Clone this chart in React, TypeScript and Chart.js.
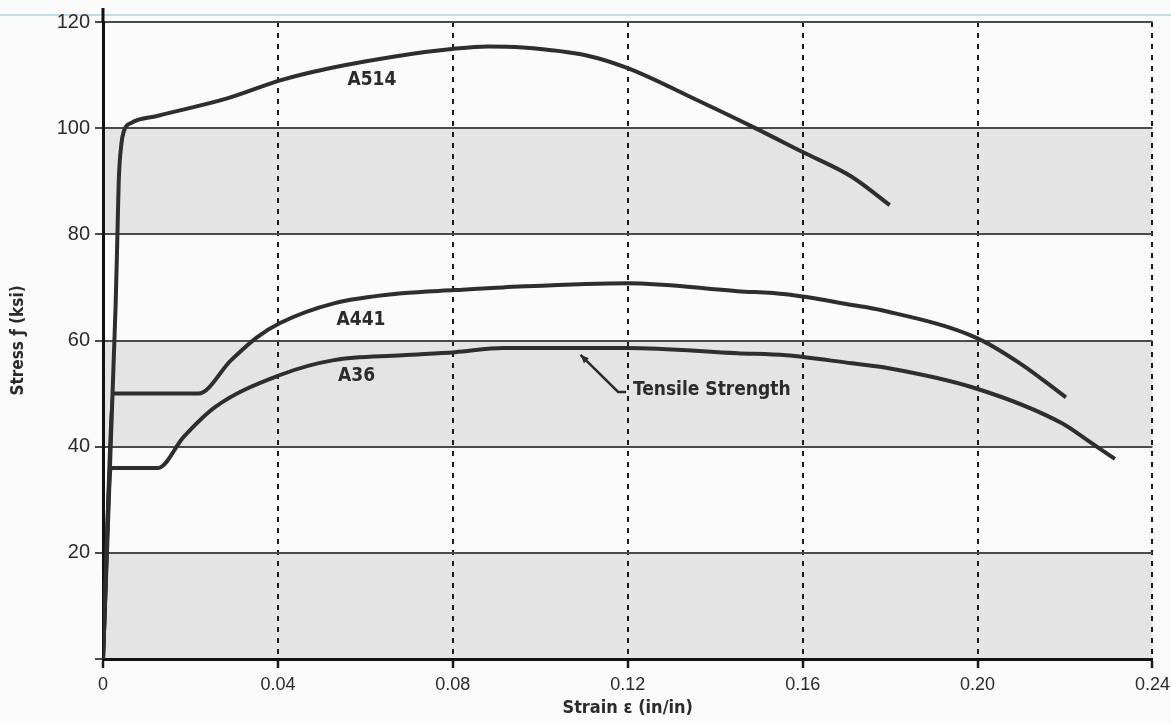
import React, { useEffect, useRef } from "react";
import { Chart, registerables } from "chart.js";

Chart.register(...registerables);

// ---- data (strain in in/in, stress in ksi) ----
const xTickStep = 0.04;
const xMin = 0;
const xMax = 0.24;
const yTickStep = 20;
const yMin = 0;
const yMax = 120;
const shadedBands: [number, number][] = [
  [80, 100],
  [40, 60],
  [0, 20],
];

const a514Strain = [0, 0.0029, 0.0033, 0.0036, 0.0042, 0.0048, 0.0065, 0.0124, 0.0284, 0.0405, 0.0474, 0.066, 0.0807, 0.088, 0.096, 0.1106, 0.12, 0.1358, 0.1487, 0.16, 0.1713, 0.1799];
const a514Stress = [0, 67, 80, 90, 97, 99.5, 101, 102.3, 105.6, 109, 110.5, 113.4, 115, 115.4, 115.2, 113.7, 111.3, 105.3, 100.2, 95.5, 90.8, 85.5];

const a441Strain = [0, 0.0025, 0.0218, 0.0293, 0.0352, 0.0405, 0.0528, 0.0684, 0.0805, 0.0915, 0.12, 0.1451, 0.1562, 0.1713, 0.1781, 0.1995, 0.2097, 0.2202];
const a441Stress = [0, 50, 50, 56.3, 60.6, 63.3, 67, 68.9, 69.5, 70, 70.8, 69.3, 68.7, 66.7, 65.7, 60.6, 55.7, 49.3];

const a36Strain = [0, 0.0018, 0.0126, 0.0184, 0.0257, 0.0405, 0.0528, 0.0684, 0.0805, 0.0915, 0.12, 0.1451, 0.1562, 0.1713, 0.1781, 0.1995, 0.2193, 0.226, 0.2314];
const a36Stress = [0, 36, 36, 41.8, 47.5, 53.5, 56.3, 57.2, 57.8, 58.6, 58.6, 57.6, 57.2, 55.7, 55, 51, 44.4, 40.7, 37.7];

const seriesNames = ["A514", "A441", "A36"];
// label anchor (strain, stress) for each series name
const labelStrain = [0.0615, 0.0590, 0.0580];
const labelStress = [109, 63.8, 53.3];

const noteText = "Tensile Strength";
const noteStrain = 0.1212;
const noteStress = 50.7;
const arrowTail = [0.1178, 50.3];
const arrowTip = [0.1092, 57.3];

const xTitle = "Strain ε (in/in)";
const yTitle = "Stress ƒ (ksi)";

const TICK_FONT = '"Liberation Sans", Arial, sans-serif';
const BOLD_FONT = '"Liberation Sans Narrow", "DejaVu Sans Condensed", "Liberation Sans", Arial, sans-serif';
const INK = "#2b2b2b";

function toPoints(xs: number[], ys: number[]) {
  return xs.map((x, i) => ({ x, y: ys[i] }));
}

const decorPlugin = {
  id: "decor",
  beforeDraw(chart: any) {
    const { ctx, chartArea, scales } = chart;
    const y = scales.y;
    ctx.save();
    ctx.fillStyle = "#e4e4e4";
    for (const [lo, hi] of shadedBands) {
      const y1 = y.getPixelForValue(hi);
      const y2 = y.getPixelForValue(lo);
      ctx.fillRect(chartArea.left, y1, chartArea.right - chartArea.left, y2 - y1);
    }
    ctx.restore();
  },
  afterDatasetsDraw(chart: any) {
    const { ctx, scales } = chart;
    const x = scales.x;
    const y = scales.y;
    ctx.save();
    ctx.fillStyle = INK;
    ctx.font = `bold 19px ${BOLD_FONT}`;
    ctx.textAlign = "center";
    ctx.textBaseline = "middle";
    seriesNames.forEach((name, i) => {
      ctx.fillText(name, x.getPixelForValue(labelStrain[i]), y.getPixelForValue(labelStress[i]));
    });
    ctx.textAlign = "left";
    ctx.fillText(noteText, x.getPixelForValue(noteStrain), y.getPixelForValue(noteStress));

    // arrow
    const tx = x.getPixelForValue(arrowTail[0]);
    const ty = y.getPixelForValue(arrowTail[1]);
    const hx = x.getPixelForValue(arrowTip[0]);
    const hy = y.getPixelForValue(arrowTip[1]);
    ctx.strokeStyle = INK;
    ctx.lineWidth = 2.5;
    ctx.beginPath();
    ctx.moveTo(tx + 8, ty);
    ctx.lineTo(tx, ty);
    ctx.lineTo(hx, hy);
    ctx.stroke();
    const ang = Math.atan2(hy - ty, hx - tx);
    const L = 9;
    ctx.beginPath();
    ctx.moveTo(hx, hy);
    ctx.lineTo(hx - L * Math.cos(ang - 0.4), hy - L * Math.sin(ang - 0.4));
    ctx.lineTo(hx - L * Math.cos(ang + 0.4), hy - L * Math.sin(ang + 0.4));
    ctx.closePath();
    ctx.fill();
    ctx.restore();
  },
  afterDraw(chart: any) {
    const { ctx, chartArea } = chart;
    ctx.save();
    ctx.strokeStyle = "#111";
    ctx.lineWidth = 3;
    ctx.beginPath();
    ctx.moveTo(chartArea.left, chartArea.top);
    ctx.lineTo(chartArea.left, chartArea.top - 14);
    ctx.stroke();
    ctx.restore();
  },
};

export default function App() {
  const canvasRef = useRef<HTMLCanvasElement | null>(null);

  useEffect(() => {
    const canvas = canvasRef.current;
    if (!canvas) return;
    const lineStyle = {
      borderColor: "#2e2e2e",
      borderWidth: 4,
      pointRadius: 0,
      fill: false,
      cubicInterpolationMode: "monotone" as const,
    };
    const chart = new Chart(canvas, {
      type: "line",
      data: {
        datasets: [
          { label: seriesNames[0], data: toPoints(a514Strain, a514Stress), ...lineStyle },
          { label: seriesNames[1], data: toPoints(a441Strain, a441Stress), ...lineStyle },
          { label: seriesNames[2], data: toPoints(a36Strain, a36Stress), ...lineStyle },
        ],
      },
      options: {
        animation: false,
        responsive: false,
        events: [],
        layout: { padding: { left: 0, right: 0, top: 22, bottom: 0 } },
        plugins: {
          legend: { display: false },
          tooltip: { enabled: false },
        },
        scales: {
          x: {
            type: "linear",
            min: xMin,
            max: xMax,
            afterFit: (s: any) => {
              s.height = 65;
            },
            ticks: {
              stepSize: xTickStep,
              autoSkip: false,
              maxRotation: 0,
              padding: 6,
              color: INK,
              font: { family: TICK_FONT, size: 18 },
              callback: (v: any) => (Math.abs(v) < 1e-9 ? "0" : Number(v).toFixed(2)),
            },
            grid: {
              color: (c: any) => (c.tick && Math.abs(c.tick.value) < 1e-9 ? "rgba(0,0,0,0)" : "#1a1a1a"),
              lineWidth: 2,
              tickLength: 9,
              tickColor: "#1a1a1a",
              tickWidth: 2.5,
            },
            border: { display: true, color: "#111", width: 3, dash: [5, 6] },
            title: {
              display: true,
              text: xTitle,
              color: INK,
              font: { family: BOLD_FONT, size: 18, weight: "bold" },
              padding: { top: 0, bottom: 5 },
            },
          },
          y: {
            type: "linear",
            min: yMin,
            max: yMax,
            afterFit: (s: any) => {
              s.width = 103;
            },
            ticks: {
              stepSize: yTickStep,
              padding: 5,
              color: INK,
              font: { family: TICK_FONT, size: 20 },
              callback: (v: any) => (v === 0 ? "" : String(v)),
            },
            grid: {
              color: (c: any) => (c.tick && c.tick.value === 0 ? "rgba(0,0,0,0)" : "#4a4a4a"),
              lineWidth: 2,
              tickLength: 8,
              tickColor: "#4a4a4a",
              tickWidth: 2,
            },
            border: { display: true, color: "#111", width: 3 },
            title: {
              display: true,
              text: yTitle,
              color: INK,
              font: { family: BOLD_FONT, size: 17, weight: "bold" },
              padding: { top: 8, bottom: 0 },
            },
          },
        },
      },
      plugins: [decorPlugin],
    } as any);
    return () => chart.destroy();
  }, []);

  return (
    <div style={{ position: "absolute", left: 0, top: 0, width: 1171, height: 724, overflow: "hidden", background: "#fbfbfb" }}>
      <div style={{ position: "absolute", left: 0, top: 14, width: 1171, height: 2, background: "#b6e0ec" }} />
      <canvas ref={canvasRef} width={1176} height={724} style={{ position: "absolute", left: 0, top: 0 }} />
    </div>
  );
}
